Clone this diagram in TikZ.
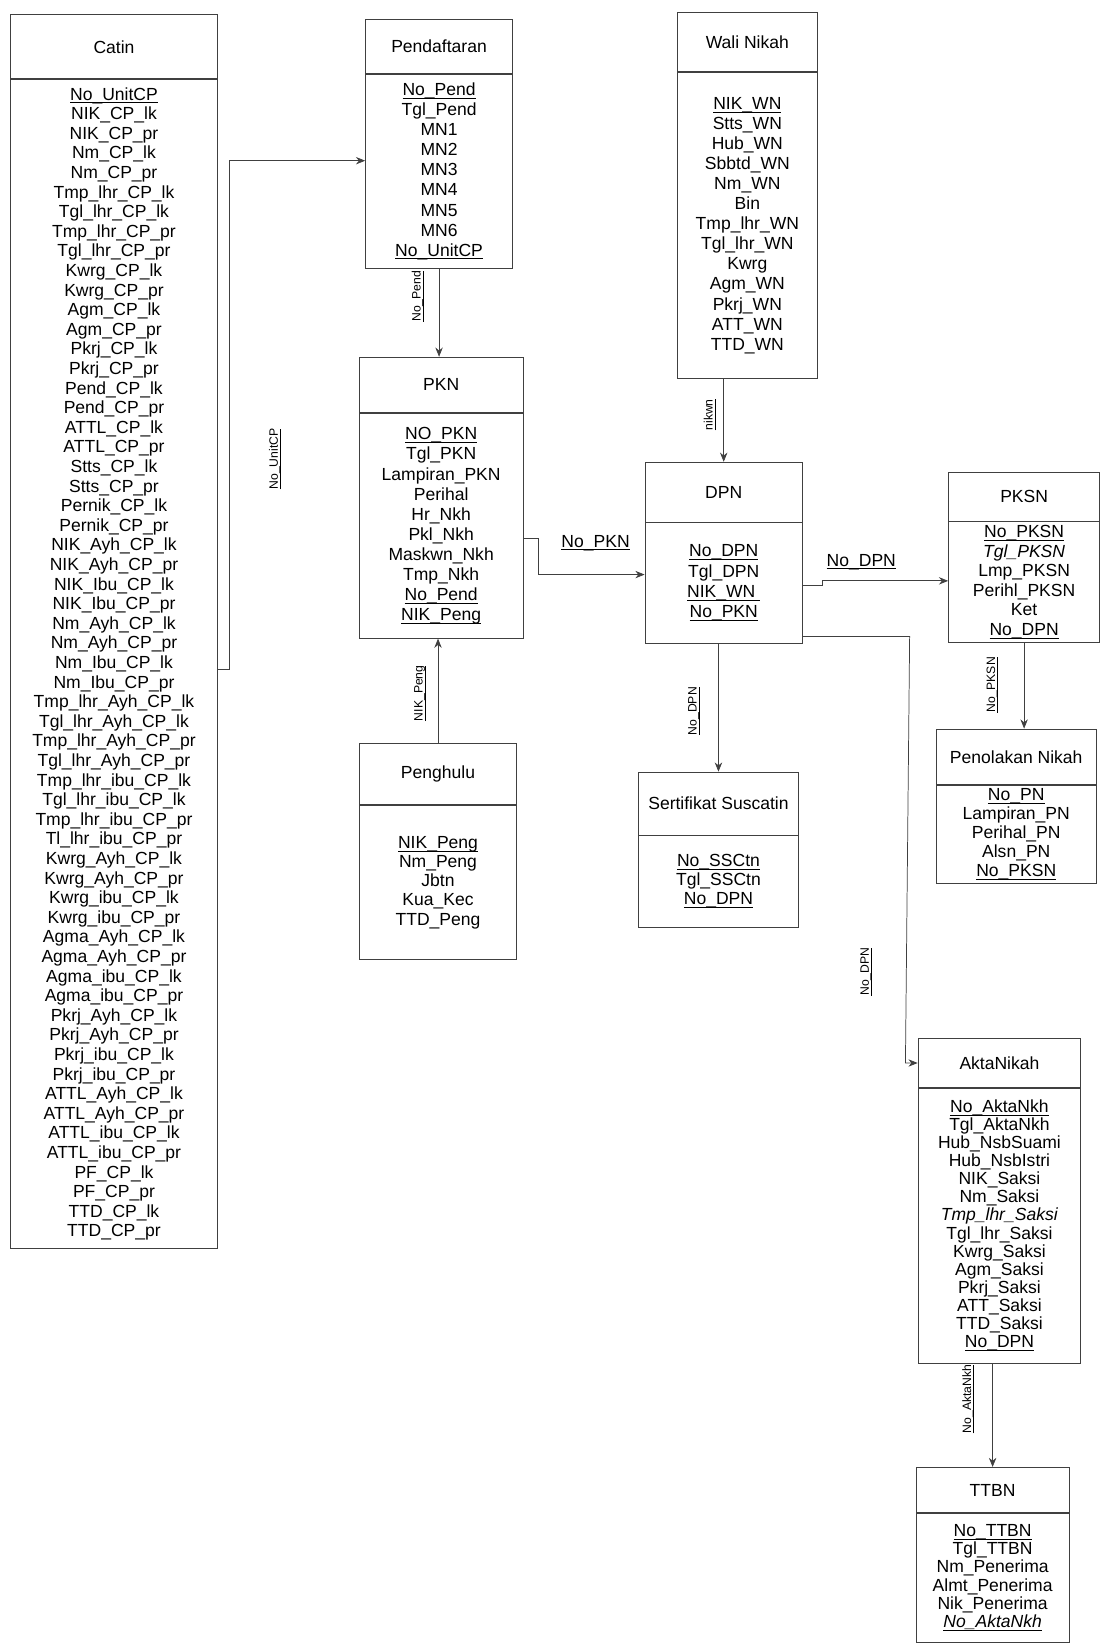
\documentclass[tikz,border=0pt]{standalone}
\usepackage{fontspec}
\setmainfont{Liberation Sans}
\usetikzlibrary{arrows.meta}
\newcommand{\pk}[1]{\rlap{\underline{\smash{#1}}}\phantom{#1}}

\begin{document}
\begin{tikzpicture}[x=0.02cm,y=-0.02cm,>={Stealth[length=5pt,width=4pt]},
    ent/.style={draw=black!75,font=\fontsize{9.5}{11}\selectfont},
    atr/.style={draw=black!75,anchor=north,align=center,inner sep=1pt,font=\fontsize{9.5}{#1}\selectfont},
    atr/.default=10.8,
    lbl/.style={font=\fontsize{9.5}{11}\selectfont,inner sep=1pt},
    vlbl/.style={font=\fontsize{6.6}{8}\selectfont,inner sep=1pt,rotate=90},
    rel/.style={draw=black!75,->}]
\useasboundingbox (0,0) rectangle (1049,1568);
% Catin
\node[ent,minimum width=3.94cm,minimum height=1.22cm] (catin) at (108.5,44.5) {Catin};
\node[atr=10.62,minimum width=3.94cm,minimum height=22.26cm] (catin-atr) at (catin.south) {\pk{No\_UnitCP}\\NIK\_CP\_lk\\NIK\_CP\_pr\\Nm\_CP\_lk\\Nm\_CP\_pr\\Tmp\_lhr\_CP\_lk\\Tgl\_lhr\_CP\_lk\\Tmp\_lhr\_CP\_pr\\Tgl\_lhr\_CP\_pr\\Kwrg\_CP\_lk\\Kwrg\_CP\_pr\\Agm\_CP\_lk\\Agm\_CP\_pr\\Pkrj\_CP\_lk\\Pkrj\_CP\_pr\\Pend\_CP\_lk\\Pend\_CP\_pr\\ATTL\_CP\_lk\\ATTL\_CP\_pr\\Stts\_CP\_lk\\Stts\_CP\_pr\\Pernik\_CP\_lk\\Pernik\_CP\_pr\\NIK\_Ayh\_CP\_lk\\NIK\_Ayh\_CP\_pr\\NIK\_Ibu\_CP\_lk\\NIK\_Ibu\_CP\_pr\\Nm\_Ayh\_CP\_lk\\Nm\_Ayh\_CP\_pr\\Nm\_Ibu\_CP\_lk\\Nm\_Ibu\_CP\_pr\\Tmp\_lhr\_Ayh\_CP\_lk\\Tgl\_lhr\_Ayh\_CP\_lk\\Tmp\_lhr\_Ayh\_CP\_pr\\Tgl\_lhr\_Ayh\_CP\_pr\\Tmp\_lhr\_ibu\_CP\_lk\\Tgl\_lhr\_ibu\_CP\_lk\\Tmp\_lhr\_ibu\_CP\_pr\\Tl\_lhr\_ibu\_CP\_pr\\Kwrg\_Ayh\_CP\_lk\\Kwrg\_Ayh\_CP\_pr\\Kwrg\_ibu\_CP\_lk\\Kwrg\_ibu\_CP\_pr\\Agma\_Ayh\_CP\_lk\\Agma\_Ayh\_CP\_pr\\Agma\_ibu\_CP\_lk\\Agma\_ibu\_CP\_pr\\Pkrj\_Ayh\_CP\_lk\\Pkrj\_Ayh\_CP\_pr\\Pkrj\_ibu\_CP\_lk\\Pkrj\_ibu\_CP\_pr\\ATTL\_Ayh\_CP\_lk\\ATTL\_Ayh\_CP\_pr\\ATTL\_ibu\_CP\_lk\\ATTL\_ibu\_CP\_pr\\PF\_CP\_lk\\PF\_CP\_pr\\TTD\_CP\_lk\\TTD\_CP\_pr};
% Pendaftaran
\node[ent,minimum width=2.8cm,minimum height=1.04cm] (daftar) at (418,44) {Pendaftaran};
\node[atr=10.87,minimum width=2.8cm,minimum height=3.7cm] (daftar-atr) at (daftar.south) {\pk{No\_Pend}\\Tgl\_Pend\\MN1\\MN2\\MN3\\MN4\\MN5\\MN6\\\pk{No\_UnitCP}};
% Wali Nikah
\node[ent,minimum width=2.66cm,minimum height=1.12cm] (wali) at (711.5,40) {Wali Nikah};
\node[atr=10.87,minimum width=2.66cm,minimum height=5.84cm] (wali-atr) at (wali.south) {\pk{NIK\_WN}\\Stts\_WN\\Hub\_WN\\Sbbtd\_WN\\Nm\_WN\\Bin\\Tmp\_lhr\_WN\\Tgl\_lhr\_WN\\Kwrg\\Agm\_WN\\Pkrj\_WN\\ATT\_WN\\TTD\_WN};
% PKN
\node[ent,minimum width=3.12cm,minimum height=1.06cm] (pkn) at (420,366.5) {PKN};
\node[atr=10.87,minimum width=3.12cm,minimum height=4.28cm] (pkn-atr) at (pkn.south) {\pk{NO\_PKN}\\Tgl\_PKN\\Lampiran\_PKN\\Perihal\\Hr\_Nkh\\Pkl\_Nkh\\Maskwn\_Nkh\\Tmp\_Nkh\\\pk{No\_Pend}\\\pk{NIK\_Peng}};
% Penghulu
\node[ent,minimum width=3cm,minimum height=1.16cm] (penghulu) at (417,737) {Penghulu};
\node[atr=10.4,minimum width=3cm,minimum height=2.94cm] (penghulu-atr) at (penghulu.south) {\pk{NIK\_Peng}\\Nm\_Peng\\Jbtn\\Kua\_Kec\\TTD\_Peng};
% DPN
\node[ent,minimum width=3cm,minimum height=1.14cm] (dpn) at (689,468.5) {DPN};
\node[atr=11,minimum width=3cm,minimum height=2.3cm] (dpn-atr) at (dpn.south) {\pk{No\_DPN}\\Tgl\_DPN\\\pk{NIK\_WN\ }\\\pk{No\_PKN}};
% PKSN
\node[ent,minimum width=2.88cm,minimum height=0.92cm] (pksn) at (975,473) {PKSN};
\node[atr=10.6,minimum width=2.88cm,minimum height=2.3cm] (pksn-atr) at (pksn.south) {\pk{No\_PKSN}\\\textit{Tgl\_PKSN}\\Lmp\_PKSN\\Perihl\_PKSN\\Ket\\\pk{No\_DPN}};
% Sertifikat Suscatin
\node[ent,minimum width=3.04cm,minimum height=1.2cm] (sert) at (684,765) {Sertifikat Suscatin};
\node[atr=10.3,minimum width=3.04cm,minimum height=1.74cm] (sert-atr) at (sert.south) {\pk{No\_SSCtn}\\Tgl\_SSCtn\\\pk{No\_DPN}};
% Penolakan Nikah
\node[ent,minimum width=3.06cm,minimum height=1.06cm] (tolak) at (967.5,720.5) {Penolakan Nikah};
\node[atr=10.3,minimum width=3.06cm,minimum height=1.86cm] (tolak-atr) at (tolak.south) {\pk{No\_PN}\\Lampiran\_PN\\Perihal\_PN\\Alsn\_PN\\\pk{No\_PKSN}};
% AktaNikah
\node[ent,minimum width=3.1cm,minimum height=0.92cm] (akta) at (951.5,1012) {AktaNikah};
\node[atr=9.8,minimum width=3.1cm,minimum height=5.24cm] (akta-atr) at (akta.south) {\pk{No\_AktaNkh}\\Tgl\_AktaNkh\\Hub\_NsbSuami\\Hub\_NsbIstri\\NIK\_Saksi\\Nm\_Saksi\\\textit{Tmp\_lhr\_Saksi}\\Tgl\_lhr\_Saksi\\Kwrg\_Saksi\\Agm\_Saksi\\Pkrj\_Saksi\\ATT\_Saksi\\TTD\_Saksi\\\pk{No\_DPN}};
% TTBN
\node[ent,minimum width=2.92cm,minimum height=0.86cm] (ttbn) at (945,1418.5) {TTBN};
\node[atr=9.9,minimum width=2.92cm,minimum height=2.46cm] (ttbn-atr) at (ttbn.south) {\pk{No\_TTBN}\\Tgl\_TTBN\\Nm\_Penerima\\Almt\_Penerima\\Nik\_Penerima\\\pk{\textit{No\_AktaNkh}}};

% relasi
\coordinate (k1) at (218,637);
\coordinate (k2) at (218,153);
\draw[rel] (catin-atr.east |- k1) -- (k1) -- (k2) -- (daftar-atr.west |- k2);
\node[vlbl] (l-unit) at (262,437) {\pk{No\_UnitCP}};
\draw[rel] (daftar-atr.south) -- (daftar-atr.south |- pkn.north);
\node[vlbl] (l-pend) at (398,282) {\pk{No\_Pend}};
\draw[rel] (penghulu.north) -- (penghulu.north |- pkn-atr.south);
\node[vlbl] (l-peng) at (400,660) {\pk{NIK\_Peng}};
\coordinate (k3) at (513,513);
\coordinate (k4) at (513,547);
\draw[rel] (pkn-atr.east |- k3) -- (k3) -- (k4) -- (dpn-atr.west |- k4);
\node[lbl] (l-pkn) at (567,517) {\pk{No\_PKN}};
\draw[rel] (dpn.north |- wali-atr.south) -- (dpn.north);
\node[vlbl] (l-wn) at (676,395) {\pk{nikwn}};
\coordinate (k5) at (783,557);
\coordinate (k6) at (783,553);
\draw[rel] (dpn-atr.east |- k5) -- (k5) -- (k6) -- (pksn-atr.west |- k6);
\node[lbl] (l-dpn1) at (820,535) {\pk{No\_DPN}};
\draw[rel] (dpn-atr.south -| sert.north) -- (sert.north);
\node[vlbl] (l-dpn2) at (661,677) {\pk{No\_DPN}};
\draw[rel] (pksn-atr.south) -- (pksn-atr.south |- tolak.north);
\node[vlbl] (l-pksn) at (945,652) {\pk{No\_PKSN}};
\coordinate (k7) at (866,606);
\coordinate (k8) at (862,1012);
\draw[rel] (dpn-atr.east |- k7) -- (k7) -- (k8) -- (akta.west |- k8);
\node[vlbl] (l-dpn3) at (825,925) {\pk{No\_DPN}};
\draw[rel] (ttbn.north |- akta-atr.south) -- (ttbn.north);
\node[vlbl] (l-akta) at (922,1332) {\pk{No\_AktaNkh}};
\end{tikzpicture}
\end{document}
